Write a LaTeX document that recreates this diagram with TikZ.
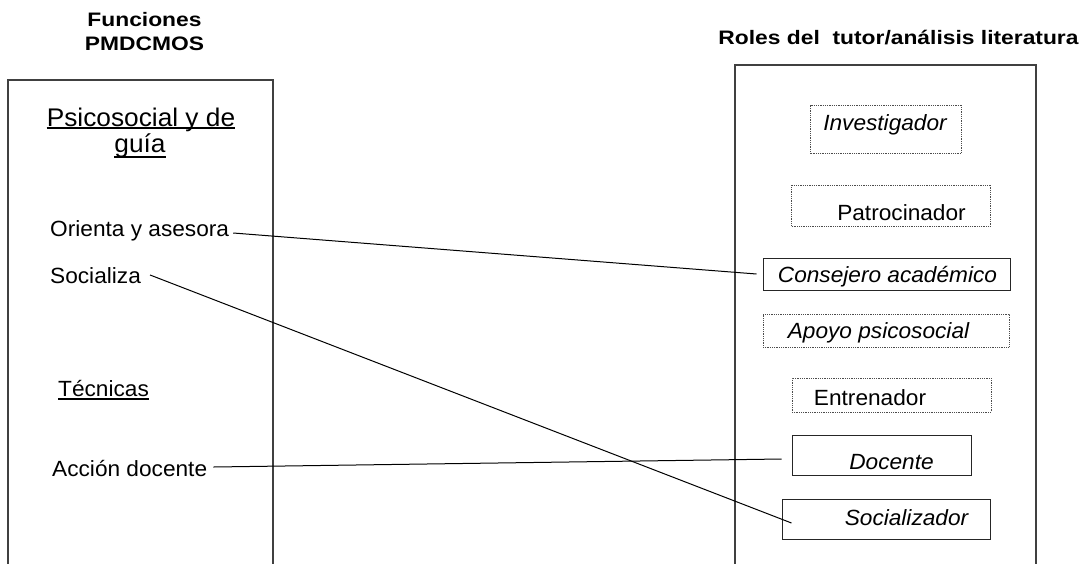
\documentclass[tikz,border=0pt]{standalone}
\usepackage{fontspec}
\setmainfont[FakeStretch=1.03]{Liberation Sans}
\newfontfamily\headfont[FakeStretch=1.17]{Liberation Sans}
\usetikzlibrary{calc}

\tikzset{
  x=1pt, y=-1pt,
  txt/.style={inner sep=0pt, anchor=base west, font=\fontsize{22}{24}\selectfont},
  ctxt/.style={inner sep=0pt, anchor=base, font=\fontsize{22}{24}\selectfont},
  itxt/.style={ctxt, font=\fontsize{22}{24}\selectfont\itshape},
  big/.style={inner sep=0pt, anchor=base, font=\fontsize{25.5}{28}\selectfont},
  head/.style={inner sep=0pt, anchor=base, font=\fontsize{19.5}{24}\selectfont\headfont\bfseries},
  frame/.style={draw=black!75, line width=1.5pt},
  solidbox/.style={draw=black!85, line width=1pt, inner sep=0pt},
  dotbox/.style={draw=black!70, line width=0.9pt, dash pattern=on 0.9pt off 0.9pt, inner sep=0pt},
  conn/.style={draw=black, line width=1pt},
  uline/.style={draw=black, line width=1.2pt},
}

\begin{document}
\begin{tikzpicture}
\useasboundingbox (0,0) rectangle (1089,563);

% column headings
\node[head] (h1a) at (144.5,26) {Funciones};
\node[head] (h1b) at (144.5,50) {PMDCMOS};
\node[head] (h2) at (898.5,44) {Roles del\ \ tutor/análisis literatura};

% open frames reaching the lower edge
\draw[frame] (8,564) -- (8,80) -- (273,80) -- (273,564);
\draw[frame] (735,564) -- (735,65) -- (1036,65) -- (1036,564);

% left column: functions
\node[big] (psico) at (141,126) {Psicosocial y de};
\node[big] (guia) at (140,152) {guía};
\node[txt] (orienta) at (50,236) {Orienta y asesora};
\node[txt] (socializa) at (50,283) {Socializa};
\node[txt] (tecnicas) at (58,396) {Técnicas};
\node[txt] (accion) at (52,476.5) {Acción docente};

% underlines of the headings inside the left frame
\draw[uline] ($(psico.base west)+(0,2)$) -- ($(psico.base east)+(0,2)$);
\draw[uline] ($(guia.base west)+(0,5)$) -- ($(guia.base east)+(0,5)$);
\draw[uline] ($(tecnicas.base west)+(0,3)$) -- ($(tecnicas.base east)+(0,3)$);

% right column: role boxes
\node[dotbox, minimum width=151, minimum height=48] (invest) at (886.2,129) {};
\node[dotbox, minimum width=199, minimum height=41] (patro) at (891.2,205.5) {};
\node[solidbox, minimum width=247, minimum height=32] (consejero) at (886.5,274) {};
\node[dotbox, minimum width=246, minimum height=33] (apoyo) at (886,330.5) {};
\node[dotbox, minimum width=199, minimum height=34] (entren) at (891.5,395) {};
\node[solidbox, minimum width=179, minimum height=40] (docente) at (881.5,455) {};
\node[solidbox, minimum width=208, minimum height=40] (socializador) at (886,519) {};

% role labels
\node[itxt] (investT) at (885,130) {Investigador};
\node[ctxt] (patroT) at (901.5,220) {Patrocinador};
\node[itxt] (consejeroT) at (887.5,282) {Consejero académico};
\node[itxt] (apoyoT) at (878.5,338) {Apoyo psicosocial};
\node[ctxt] (entrenT) at (870,405) {Entrenador};
\node[itxt] (docenteT) at (891.5,469) {Docente};
\node[itxt] (socializadorT) at (906.5,525) {Socializador};

% links between functions and roles
\draw[conn] ($(orienta.base east)+(4,-3)$) -- ($(consejero.west)+(-6,0)$);
\draw[conn] ($(socializa.base east)+(9,-8)$) -- ($(socializador.west)+(10,4)$);
\draw[conn] ($(accion.base east)+(6,-9.5)$) -- ($(docente.west)+(-10,4)$);
\end{tikzpicture}
\end{document}
